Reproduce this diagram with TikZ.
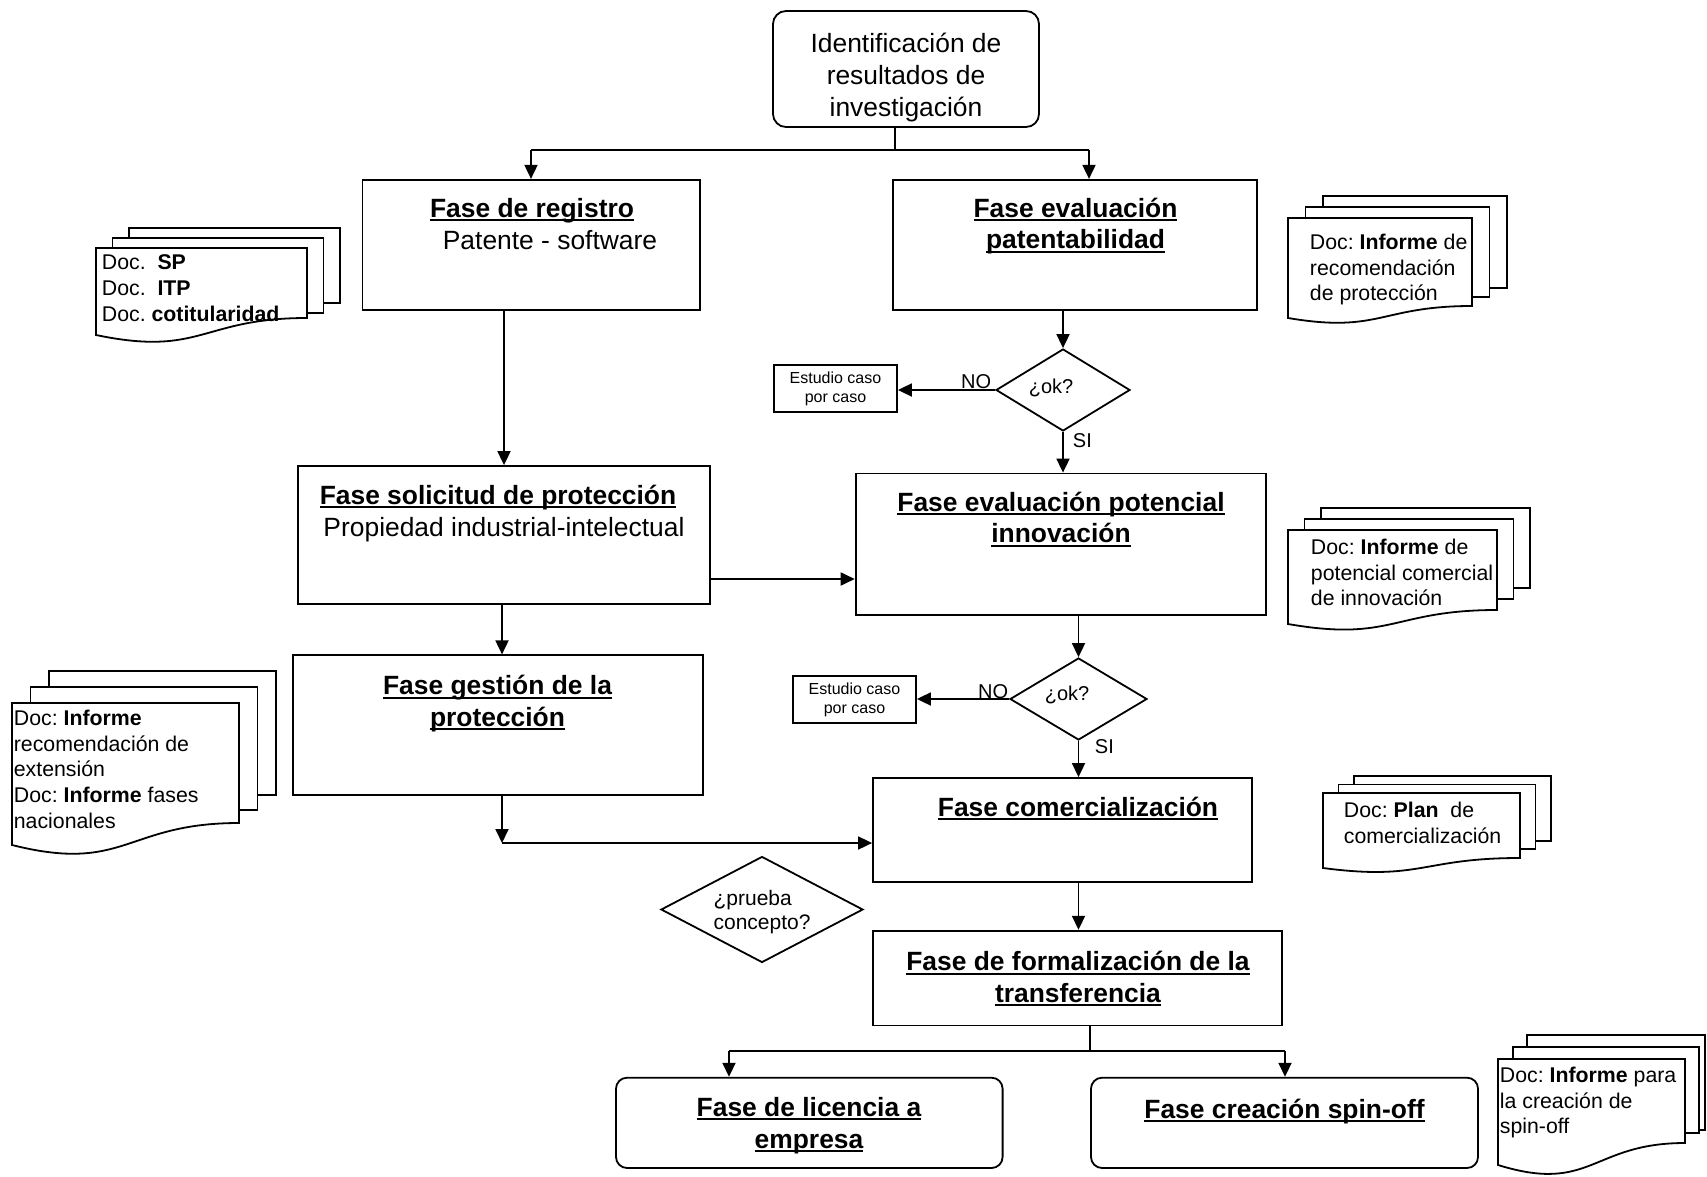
\documentclass[tikz,border=0pt]{standalone}
\usepackage{fontspec}
\setmainfont{Liberation Sans}
\usetikzlibrary{arrows.meta,shapes.geometric}
\frenchspacing
\newsavebox{\ulbox}
\newcommand{\bul}[1]{\leavevmode\sbox{\ulbox}{\bfseries #1}\rlap{\rule[-3.8pt]{\wd\ulbox}{1.9pt}}\usebox{\ulbox}}
% front left x, top y, front right x, right bottom y, left bottom y, dx, dy, middle bottom, back bottom
\newcommand{\docstack}[9]{%
  \draw[docpage] ({#1+2*#6},{#2-2*#7}) rectangle ({#3+2*#6},#9);
  \draw[docpage] ({#1+#6},{#2-#7}) rectangle ({#3+#6},#8);
  \draw[docpage] (#1,#2) -- (#3,#2) -- (#3,#4) .. controls ({(#1+#3)/2},#4) and ({(#1+#3)/2},{#5+1.3*(#5-#4)}) .. (#1,#5) -- cycle;
}
\begin{document}
\begin{tikzpicture}[x=1pt,y=-1pt,line width=1.8pt,
  box/.style={draw,rectangle,inner sep=0pt,line width=1.8pt},
  rbox/.style={box,rounded corners=13pt},
  dia/.style={draw,diamond,inner sep=0pt,line width=1.8pt},
  arr/.style={-{Triangle[length=14pt,width=13pt]}},
  docpage/.style={draw,fill=white,line width=1.8pt,line join=miter},
  mtxt/.style={inner sep=0pt,align=center,anchor=north,font=\fontsize{26.4}{31.6}\selectfont,execute at begin node={\rule{0pt}{22pt}}},
  mline/.style={inner sep=0pt,anchor=base,font=\fontsize{26.4}{31.6}\selectfont},
  dtxt/.style={inner sep=0pt,align=left,anchor=north west,font=\fontsize{21.3}{25.8}\selectfont,execute at begin node={\rule{0pt}{18pt}}},
  etxt/.style={inner sep=0pt,align=center,font=\fontsize{16}{18.8}\selectfont},
  oktxt/.style={inner sep=0pt,anchor=base,font=\fontsize{20}{24}\selectfont}
]
\useasboundingbox (0,0) rectangle (1707,1177);
\fill[white] (0,0) rectangle (1707,1177);

% ---------- document stacks ----------
\docstack{96}{248}{307}{318}{335}{16.5}{10}{313}{303}
\docstack{1288}{218}{1472}{306}{318}{17.5}{11}{297}{288}
\docstack{12}{703}{239}{823}{845}{18.5}{16}{810}{795}
\docstack{1288}{530}{1497}{610}{624}{16.5}{11}{599}{588}
\docstack{1323}{793}{1520}{858}{868}{15.5}{8.5}{849}{841}
% last stack, cut by the right border
\draw[docpage] (1527,1035) -- (1705,1035) -- (1705,1130) -- (1527,1130) -- cycle;
\draw[docpage] (1513,1047) rectangle (1699,1133);
\draw[docpage] (1498,1059) -- (1685,1059) -- (1685,1143) .. controls (1591.5,1143) and (1591.5,1194) .. (1498,1165) -- cycle;

\node[dtxt] (d1t) at (101,254) {Doc.\ \ \textbf{SP}\\Doc.\ \ \textbf{ITP}\\Doc. \textbf{cotitularidad}};
\node[dtxt] (d2t) at (1309,233) {Doc: \textbf{Informe} de\\recomendación\\de protección};
\node[dtxt] (d3t) at (13,709) {Doc: \textbf{Informe}\\recomendación de\\extensión\\Doc: \textbf{Informe} fases\\nacionales};
\node[dtxt] (d4t) at (1310,538) {Doc: \textbf{Informe} de\\potencial comercial\\de innovación};
\node[dtxt] (d5t) at (1343,801) {Doc: \textbf{Plan}\ \ de\\comercialización};
\node[dtxt] (d6t) at (1499,1066) {Doc: \textbf{Informe} para\\la creación de\\spin-off};

% ---------- boxes ----------
\node[rbox,minimum width=266pt,minimum height=116pt] (ident) at (906,69) {};
\node[box,minimum width=337.5pt,minimum height=130.4pt] (reg) at (531.25,245) {};
\node[box,minimum width=364.6pt,minimum height=130.4pt] (pat) at (1075,245) {};
\node[box,minimum width=412pt,minimum height=138pt] (sol) at (504,535) {};
\node[box,minimum width=410.4pt,minimum height=141.5pt] (pot) at (1060.8,544.25) {};
\node[box,minimum width=410.4pt,minimum height=139.4pt] (ges) at (498,725) {};
\node[box,minimum width=379pt,minimum height=104pt] (com) at (1062.5,830) {};
\node[box,minimum width=409pt,minimum height=94.8pt] (frm) at (1077.5,978.1) {};
\node[rbox,rounded corners=11pt,minimum width=386.6pt,minimum height=90.3pt] (lic) at (809.3,1122.85) {};
\node[rbox,rounded corners=11pt,minimum width=387pt,minimum height=90.3pt] (spn) at (1284.5,1122.85) {};
\node[box,minimum width=123pt,minimum height=47pt] (est1) at (835.5,388.5) {};
\node[box,minimum width=123pt,minimum height=47pt] (est2) at (854.5,699.5) {};
\node[dia,minimum width=134pt,minimum height=82pt] (dia1) at (1063,390) {};
\node[dia,minimum width=137pt,minimum height=82pt] (dia2) at (1078.5,699) {};
\node[dia,minimum width=202pt,minimum height=106pt] (dia3) at (762,909.5) {};

% ---------- texts ----------
\node[mtxt] (identt) at (906,32.5) {Identificación de\\resultados de\\investigación};
\node[mline] (regt1) at (532,217.5) {\bul{Fase de registro}};
\node[mline] (regt2) at (550,249) {Patente - software};
\node[mtxt] (patt) at (1075.5,197) {\bul{Fase evaluación}\\\bul{patentabilidad}};
\node[mline] (solt1) at (498,504.5) {\bul{Fase solicitud de protección}};
\node[mline] (solt2) at (504,536.5) {Propiedad industrial-intelectual};
\node[mtxt] (pott) at (1061,491) {\bul{Fase evaluación potencial}\\\bul{innovación}};
\node[mtxt] (gest) at (497.5,674.5) {\bul{Fase gestión de la}\\\bul{protección}};
\node[mline] (comt) at (1078,816.5) {\bul{Fase comercialización}};
\node[mtxt] (frmt) at (1078,950.5) {\bul{Fase de formalización de la}\\\bul{transferencia}};
\node[mtxt] (lict) at (809,1096.5) {\bul{Fase de licencia a}\\\bul{empresa}};
\node[mline] (spnt) at (1284.5,1118.5) {\bul{Fase creación spin-off}};
\node[etxt] (est1t) at (est1.center) {Estudio caso\\por caso};
\node[etxt] (est2t) at (est2.center) {Estudio caso\\por caso};
\node[oktxt] (dia1t) at (1051,393) {¿ok?};
\node[oktxt] (dia2t) at (1067,700.5) {¿ok?};
\node[inner sep=0pt,align=left,anchor=north west,font=\fontsize{21}{24}\selectfont,execute at begin node={\rule{0pt}{18pt}}] (dia3t) at (712.7,889.5) {¿prueba\\concepto?};
\node[oktxt,anchor=base east] (no1) at (992,388) {NO};
\node[oktxt,anchor=base west] (si1) at (1072,447) {SI};
\node[oktxt,anchor=base east] (no2) at (1009,698) {NO};
\node[oktxt,anchor=base west] (si2) at (1094,753) {SI};

% ---------- connectors ----------
\coordinate (j1) at (895,150);
\coordinate (jl) at (531,150);
\coordinate (jr) at (1089,150);
\draw (ident.south -| j1) -- (j1);
\draw (jl) -- (jr);
\draw[arr] (jl) -- (reg.north -| jl);
\draw[arr] (jr) -- (pat.north -| jr);
\draw[arr] (reg.south -| sol.north) -- (sol.north);
\draw[arr] (pat.south -| dia1.north) -- (dia1.north);
\draw[arr] (dia1.west) -- (est1.east |- dia1.west);
\draw[arr] (dia1.south) -- (dia1.south |- pot.north);
\coordinate (h1) at (700,579);
\draw[arr] (sol.east |- h1) -- (pot.west |- h1);
\coordinate (c502) at (502,843);
\draw[arr] (sol.south -| c502) -- (ges.north -| c502);
\draw[arr] (ges.south -| c502) -- (c502);
\draw[arr] (c502) -- (com.west |- c502);
\draw[arr] (pot.south -| dia2.north) -- (dia2.north);
\draw[arr] (dia2.west) -- (est2.east |- dia2.west);
\draw[arr] (dia2.south) -- (dia2.south |- com.north);
\draw[arr] (com.south -| dia2.south) -- (frm.north -| dia2.south);
\coordinate (j2) at (1090,1051);
\coordinate (jl2) at (729,1051);
\coordinate (jr2) at (1285,1051);
\draw (frm.south -| j2) -- (j2);
\draw (jl2) -- (jr2);
\draw[arr] (jl2) -- (lic.north -| jl2);
\draw[arr] (jr2) -- (spn.north -| jr2);
\end{tikzpicture}
\end{document}
